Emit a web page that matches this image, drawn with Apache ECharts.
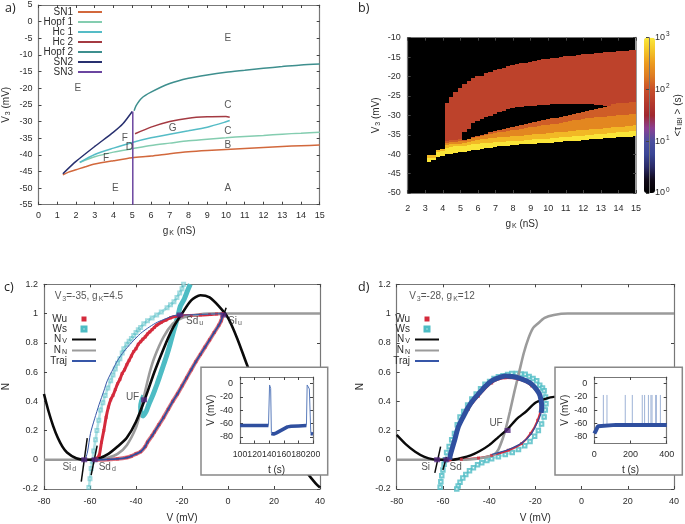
<!DOCTYPE html>
<html><head><meta charset="utf-8">
<style>html,body{margin:0;padding:0;background:#fff}#c{width:685px;height:524px}</style>
<script src="https://cdn.jsdelivr.net/npm/echarts@6/dist/echarts.min.js"></script>
</head><body><div id="c"></div>
<script>
// ---------- panel a ----------
const aSN1=[[1.3,-46],[1.6,-45.2],[2,-44.5],[2.5,-43.6],[3,-42.8],[4,-41.8],[5,-40.9],[6,-40.4],[7,-39.7],[8,-39.1],[9,-38.7],[10,-38.4],[11,-38.1],[12,-37.8],[13,-37.5],[14,-37.3],[15,-37.1]];
const aHopf1=[[2.2,-42.3],[3,-40.6],[4,-39.2],[5,-38.2],[6,-37.2],[7,-36.5],[8,-35.8],[9,-35.3],[10,-34.9],[11,-34.5],[12,-34.2],[13,-33.8],[14,-33.5],[15,-33.2]];
const aHc1=[[2.2,-42.3],[3,-39.9],[4,-38],[5,-36.3],[6,-34.9],[7,-33.8],[8,-32.8],[9,-31.7],[10,-30.1],[10.2,-29.7]];
const aHc2=[[5.15,-33.7],[6,-31.7],[7,-30],[8,-29],[9,-28.6],[10,-28.5],[10.2,-28.7]];
const aHopf2=[[5.1,-26.8],[5.2,-25.3],[5.5,-23],[6,-21.2],[7,-18.6],[8,-17],[9,-16],[10,-15.2],[11,-14.6],[12,-14],[13,-13.5],[14,-13],[15,-12.7]];
const aSN2=[[1.3,-45.7],[2,-42],[3,-37.5],[4,-33.2],[4.5,-30.7],[5,-27]];
const aSN3=[[5.03,-55],[5.03,-27]];
const aLetters=[['E',10.1,-5],['C',10.1,-25],['G',7.15,-32],['C',10.1,-33],['F',4.6,-35],['D',4.85,-37.6],['B',10.1,-37],['F',3.6,-41],['E',2.1,-20],['E',4.1,-50],['A',10.1,-50]];

// ---------- panel b (columns, mV) ----------
const heatG=[3.1,3.35,3.6,3.85,4.1,4.35,4.6,4.85,5.1,5.35,5.6,5.85,6.1,6.35,6.6,6.85,7.1,7.35,7.6,7.85,8.1,8.35,8.6,8.85,9.1,9.35,9.6,9.85,10.1,10.35,10.6,10.85,11.1,11.35,11.6,11.85,12.1,12.35,12.6,12.85,13.1,13.35,13.6,13.85,14.1,14.35,14.6,14.85];
const heatRedTop=[null,null,null,null,-26.7,-25.2,-24,-23,-22,-21.2,-20.5,-19.9,-19.8,-19.2,-18.8,-18.4,-18,-17.7,-17.4,-17.1,-16.8,-16.6,-16.4,-16.2,-16,-15.8,-15.6,-15.4,-15.3,-15.1,-15,-14.8,-14.7,-14.6,-14.4,-14.3,-14.2,-14.1,-14,-13.9,-13.8,-13.7,-13.6,-13.5,-13.4,-13.3,-13.2,-13.1];
const heatHoleTop=[null,null,null,null,-36.5,-36.4,-36.3,-36.2,-34.2,-33.6,-32,-31.5,-31,-30.5,-30.1,-29.7,-29.2,-28.8,-28.4,-28.1,-27.9,-27.8,-27.7,-27.6,-27.5,-27.4,-27.4,-27.3,-27.2,-27.2,-27.1,-27.1,-27,-27,-27,-27.1,-27.2,-27.2,-27.3,-27.4,-27.5,-27.6,-27,-26.9,-26.8,-26.7,-26.6,-26.5];
const heatHoleBottom=[null,null,null,null,-36.5,-36.4,-36.3,-36.2,-36.3,-36,-35.6,-35.3,-35,-34.7,-34.4,-34.1,-33.8,-33.5,-33.2,-32.9,-32.7,-32.4,-32.1,-31.9,-31.6,-31.4,-31.2,-31,-30.8,-30.6,-30.4,-30.1,-29.9,-29.7,-29.4,-29.1,-28.9,-28.6,-28.3,-28,-27.8,-27.7,-27,-26.9,-26.8,-26.7,-26.6,-26.5];
const heatOrangeTop=[null,null,null,null,-37,-36.9,-36.8,-36.6,-36.6,-36.2,-35.9,-35.6,-35.3,-35,-34.8,-34.6,-34.4,-34.2,-34,-33.8,-33.7,-33.5,-33.3,-33.1,-32.9,-32.8,-32.6,-32.4,-32.2,-32.1,-31.9,-31.7,-31.5,-31.3,-31.2,-31,-30.8,-30.7,-30.5,-30.4,-30.3,-30.2,-30.1,-30,-29.9,-29.8,-29.7,-29.6];
const heatAmberTop=[-40.2,-40.2,-38.8,-38.6,-37.6,-37.5,-37.4,-37.3,-37.2,-36.8,-36.6,-36.4,-36.2,-36,-35.9,-35.8,-35.7,-35.6,-35.5,-35.4,-35.3,-35.2,-35.1,-35,-34.9,-34.8,-34.7,-34.6,-34.5,-34.4,-34.3,-34.2,-34.1,-34,-33.9,-33.8,-33.7,-33.6,-33.5,-33.4,-33.3,-33.2,-33.1,-33,-32.9,-32.8,-32.7,-32.6];
const heatYellowTop=[-41,-41,-39.4,-39.2,-38.3,-38.1,-37.9,-37.8,-37.8,-37.7,-37.5,-37.3,-37.2,-37.1,-37,-36.9,-36.9,-36.8,-36.7,-36.6,-36.6,-36.5,-36.4,-36.3,-36.2,-36.1,-36.1,-36,-35.9,-35.8,-35.7,-35.6,-35.5,-35.4,-35.3,-35.2,-35.1,-35,-34.9,-34.8,-34.7,-34.6,-34.5,-34.4,-34.3,-34.2,-34.1,-34];
const heatBottom=[-42,-41.6,-40.8,-40.4,-40,-39.9,-39.7,-39.5,-39.4,-39.2,-39,-38.9,-38.7,-38.5,-38.3,-38.2,-38,-37.9,-37.8,-37.7,-37.6,-37.5,-37.4,-37.3,-37.3,-37.2,-37.1,-37,-37,-36.9,-36.8,-36.7,-36.6,-36.5,-36.5,-36.4,-36.3,-36.2,-36.1,-36,-35.9,-35.9,-35.8,-35.7,-35.7,-35.6,-35.5,-35.4];
const heatLevels=[1.85,2.08,2.35,2.68,2.97]; // log10 <tau> of red, red-orange, orange, amber, yellow
const colorStops=['#000000','#100818','#2a2a66','#3a4596','#4b4f9f','#8b3f93','#a0282f','#b53a2c','#c84f2a','#dd7a22','#ec9a1e','#f4c428','#fbe93a'];

// ---------- panel c ----------
const cNV=[[-80,.45],[-78,.33],[-76,.23],[-74,.15],[-72,.09],[-70,.05],[-66,.01],[-62,0],[-60,0],[-56,.01],[-52,.04],[-48,.09],[-44,.15],[-40,.26],[-36,.42],[-32,.6],[-28,.76],[-24,.9],[-20,1],[-16,1.09],[-12,1.125],[-8,1.11],[-4,1.05],[0,.97],[4,.83],[8,.66],[10,.58],[20,.24],[30,.02],[34,-.08],[38,-.16],[40,-.19]];
const cNN=[[-80,0],[-60,0],[-56,.005],[-52,.015],[-48,.04],[-44,.1],[-40,.22],[-38,.33],[-36,.47],[-34,.6],[-32,.7],[-28,.84],[-24,.93],[-20,.97],[-14,.99],[-8,1],[0,1],[40,1]];
const cWuUpper=[[-57.5,0],[-57,.01],[-56,.03],[-55,.12],[-54,.2],[-53,.29],[-52,.36],[-51,.41],[-50,.44],[-49,.48],[-48,.52],[-47,.55],[-46,.59],[-45,.615],[-44,.65],[-43,.68],[-42,.71],[-41,.74],[-40,.76],[-39,.79],[-38,.807],[-37,.825],[-36,.84],[-35,.86],[-34,.875],[-33,.89],[-32,.905],[-31,.92],[-29,.94],[-27,.955],[-25,.97],[-23,.98],[-20,.985],[-16,.987],[-12,.99],[-8,.993],[-5,.997],[-2,1]];
const cWuLower=[[-2,1],[-3,.95],[-4,.92],[-6,.87],[-8,.82],[-10,.77],[-12,.72],[-14,.67],[-16,.615],[-18,.56],[-20,.505],[-22,.45],[-24,.4],[-26,.345],[-28,.29],[-30,.24],[-32,.19],[-33,.165],[-35,.12],[-36,.09],[-38,.055],[-40,.04],[-42,.025],[-44,.015],[-48,.006],[-52,.002],[-57,0]];
const cTrajUpper=[[-62,0],[-61,.06],[-59.8,.18],[-58,.28],[-56,.38],[-54,.47],[-52.5,.54],[-50,.62],[-48,.68],[-45.3,.74],[-42,.8],[-38,.864],[-34,.91],[-30.8,.94],[-27,.965],[-23.7,.985],[-18,.99],[-10,.995],[-2,1]];
const cWsUpper=[[-60.5,-.19],[-60,-.13],[-59.5,-.06],[-59,-.01],[-58.4,.06],[-57.6,.136],[-57,.2],[-56.2,.27],[-55.4,.34],[-54.4,.39],[-53.4,.44],[-52.2,.49],[-51,.54],[-50,.58],[-49,.62],[-48,.66],[-47,.69],[-46,.73],[-45.3,.76],[-44,.79],[-43,.81],[-42,.83],[-41,.85],[-40,.87],[-39,.89],[-38,.905],[-36.6,.93],[-35,.95],[-33,.97],[-31,.99],[-29,1.01],[-26.5,1.04],[-25,1.06],[-23.5,1.08],[-22.2,1.11],[-21,1.14],[-20,1.17],[-19.3,1.2]];
const cWsBand=[[-16.4,1.2],[-17.5,1.16],[-19,1.1],[-20.7,1.05],[-21.8,.98],[-22.9,.92],[-24,.86],[-25.2,.79],[-26.5,.72],[-28,.65],[-29.5,.58],[-30.8,.52],[-32,.47],[-33,.43],[-34.4,.38],[-35.6,.33],[-36.9,.3],[-37.8,.32],[-38,.36],[-37.6,.4],[-36.6,.44]];
const cStableSi=[[-63.8,-.15],[-61.2,.148]];
const cStableSd=[[-59.5,-.105],[-56.9,.096]];
const cStableSu=[[-2,.985],[-.8,1.04]];
const cFixedPoints=[[-62.5,0],[-58,0],[-36.5,.41],[-21,.99],[-2,.99]];
const cLabels=[['{t|Si}{s|d}',-69,-.05],['{t|Sd}{s|d}',-52.5,-.05],['{t|UF}',-41.5,.43],['{t|Sd}{s|u}',-14.5,.95],['{t|Si}{s|u}',3,.95],['{t|V}{s|3}{t|=-35, g}{s|K}{t|=4.5}',-60.5,1.115]];
const cInsetThick=[[100,-63],[139,-63],null,[143,-75],[146,-76],[150,-74],[155,-71],[160,-68],[165,-65],[170,-64],[180,-63.5],[191,-63],null,[197,-75],[200,-76]];
const cInsetThin=[[139,-63],[140.5,-2],[142,-7],[143,-75],null,[191,-63],[192,-2],[195,-8],[197,-75]];

// ---------- panel d ----------
const dNV=[[-80,.17],[-76,.105],[-72,.055],[-68,.02],[-64,.003],[-60,0],[-56,0],[-52,.012],[-48,.03],[-44,.06],[-40,.1],[-36,.155],[-32,.21],[-28,.28],[-24,.33],[-20,.39],[-16,.415],[-12,.43],[-5,.43]];
const dNN=[[-80,0],[-50,0],[-46,.005],[-42,.015],[-38,.035],[-36,.07],[-34,.15],[-33,.2],[-31,.33],[-29,.47],[-27,.6],[-25,.73],[-23,.83],[-21,.9],[-19,.93],[-16,.97],[-12,.99],[-6,1],[0,1],[40,1]];
const dWu=[[-57,0],[-56.7,.01],[-53.5,.21],[-49,.345],[-44.6,.435],[-38.9,.525],[-33.1,.56],[-27.3,.55],[-21.6,.505],[-18,.43],[-17.6,.36],[-19,.27],[-22,.18],[-26,.11],[-31.7,.065],[-38.9,.03],[-44.6,.012],[-52,.003],[-57,0]];
const dTrajUpper=[[-57,0],[-56.9,.025],[-55,.13],[-53.3,.226],[-51,.3],[-49,.36],[-46.8,.41],[-44.6,.45],[-41.8,.5],[-38.9,.54],[-36,.56],[-33.1,.573],[-30,.57],[-27.3,.56],[-24,.54],[-21.6,.517],[-19.5,.48],[-18,.44],[-17.2,.36],[-17.5,.32]];
const dTrajLower=[[-17.5,.32],[-18.7,.27],[-21.6,.18],[-25.9,.114],[-31.7,.07],[-38.9,.036]];
const dWs=[[-61.2,-.188],[-60.9,-.15],[-60.5,-.11],[-60,-.07],[-59.5,-.03],[-59,0],[-58.4,.05],[-57.3,.09],[-56.2,.136],[-55,.18],[-53.8,.24],[-52.6,.293],[-51,.33],[-49.3,.375],[-47.5,.416],[-45.6,.45],[-43.7,.485],[-41.8,.517],[-39.8,.535],[-37.9,.555],[-36,.568],[-34,.575],[-32,.583],[-30.2,.59],[-28.2,.59],[-26.2,.587],[-24.4,.584],[-22.7,.57],[-21,.555],[-19.4,.54],[-18.1,.51],[-16.9,.49],[-16.2,.472],[-15.6,.43],[-15.4,.383],[-15.7,.34],[-16.2,.293],[-17.3,.245],[-18.7,.2],[-20.3,.16],[-22.3,.125],[-24.6,.095],[-27.3,.07],[-30,.05],[-33,.036],[-36,.02],[-38.9,.007],[-41,-.005],[-43.2,-.02],[-45,-.035],[-46.8,-.054],[-48.5,-.075],[-50.1,-.1],[-51.4,-.125],[-52.6,-.154],[-53.4,-.18],[-54,-.2]];
const dStableSi=[[-63.5,-.09],[-61,.09]];
const dStableSd=[[-60,-.07],[-58.5,.02]];
const dFixedPoints=[[-62.5,0],[-58.5,0],[-32,.2]];
const dLabels=[['{t|Si}',-67.5,-.05],['{t|Sd}',-54.5,-.05],['{t|UF}',-37,.25],['{t|V}{s|3}{t|=-28, g}{s|K}{t|=12}',-60.4,1.115]];
const dInsetThick=[[0,-75],[10,-70],[20,-64],[30,-62],[120,-62],[280,-62],[290,-64],[300,-62],[400,-62]];
const dSpikeTimes=[50,70,171,210,265,278,299,313,319,339,343,365];

// ---------- styles ----------
const FONT='"Liberation Sans",Arial,sans-serif';
const C={ink:'#2c2c2c',axis:'#777',black:'#0a0a0a',grey:'#9b9b9b',red:'#d42a3c',teal:'#4dbcc4',blue:'#2f4f9f',purple:'#54287f'};
const RICH={t:{fontFamily:FONT,fontSize:10,color:C.ink},s:{fontFamily:FONT,fontSize:7,color:C.ink,padding:[4,0,0,1]}};
const grids=[],xAxes=[],yAxes=[],series=[];

function panel(rect,o){
  const z=o.z||0, g=grids.length;
  grids.push({left:rect[0],top:rect[1],width:rect[2],height:rect[3],show:false,z,backgroundColor:'transparent'});
  const common=(extra)=>Object.assign({gridIndex:g,z,axisLine:{onZero:false,lineStyle:{color:C.axis,width:1.2}},axisTick:{inside:true,length:3,lineStyle:{color:'#444',width:1}},splitLine:{show:false},axisLabel:{fontFamily:FONT,fontSize:o.font||9,color:C.ink,margin:o.margin||6,showMinLabel:true,showMaxLabel:true,hideOverlap:false},nameTextStyle:{rich:RICH,fontFamily:FONT,fontSize:10,color:C.ink}},extra);
  const tickY=o.yTicks;
  const xi=xAxes.length;
  const x0=common({type:'value',min:o.x[0],max:o.x[1],interval:o.x[2],position:'bottom',name:o.xName,nameLocation:'middle',nameGap:o.xGap});
  x0.axisLabel.margin=o.xMargin||o.margin||6;
  if(o.xFont)x0.axisLabel.fontSize=o.xFont;
  xAxes.push(x0);
  const yi=yAxes.length;
  const y0=common({type:'value',min:o.y[0],max:o.y[1],interval:o.y[2],position:'left',name:o.yName,nameLocation:'middle',nameGap:o.yGap,nameRotate:90});
  if(tickY){y0.axisLabel.customValues=tickY;y0.axisTick.customValues=tickY;}
  yAxes.push(y0);
  const x2=common({type:'value',min:o.x[0],max:o.x[1],interval:o.x[2],position:'top'});x2.axisLabel={show:false};
  xAxes.push(x2);
  const y2=common({type:'value',min:o.y[0],max:o.y[1],interval:o.y[2],position:'right'});y2.axisLabel={show:false};
  if(tickY){y2.axisTick.customValues=tickY;}
  if(o.rightLine)y2.axisLine.lineStyle=o.rightLine;
  yAxes.push(y2);
  return {xAxisIndex:xi,yAxisIndex:yi};
}
function line(ax,name,data,color,width,z,opacity){
  series.push(Object.assign({type:'line',name,data,symbol:'none',smooth:0.25,connectNulls:false,silent:true,animation:false,z:z||2,lineStyle:{color,width,opacity:opacity==null?1:opacity,cap:'butt'},itemStyle:{color}},ax));
}
function straight(ax,name,data,color,width,z){
  series.push(Object.assign({type:'line',name,data,symbol:'none',smooth:false,connectNulls:false,silent:true,animation:false,z:z||2,lineStyle:{color,width,cap:'butt'},itemStyle:{color}},ax));
}
function marks(ax,name,data,symbol,size,color,z,hollow,op){
  series.push(Object.assign({type:'scatter',name,data,symbol,symbolSize:size,silent:true,animation:false,z:z||2,
    itemStyle:hollow?{color,borderColor:color,borderWidth:.8,opacity:op||.75}:{color}},ax));
}
function labels(ax,list,opt){
  series.push(Object.assign({type:'scatter',data:list.map(l=>({value:[l[1],l[2]],text:l[0]})),symbolSize:0,silent:true,animation:false,z:4,
    label:Object.assign({show:true,position:'inside',formatter:p=>p.data.text,rich:RICH,fontFamily:FONT,fontSize:10,color:C.ink},opt||{})},ax));
}
const nm=s=>`{t|${s[0]}}{s|${s[1]}}`;

// panel a
const A=panel([38,5,281.7,199.7],{x:[0,15,1],y:[-55,5,5],xName:nm(['g','K'])+'{t| (nS)}',xGap:21,yName:nm(['V','3'])+'{t| (mV)}',yGap:27});
line(A,'SN1',aSN1,'#d2683c',1.5);
line(A,'Hopf 1',aHopf1,'#84cdb0',1.5);
line(A,'Hc 1',aHc1,'#55bcc6',1.5);
line(A,'Hc 2',aHc2,'#a43a42',1.5);
line(A,'Hopf 2',aHopf2,'#3e8f8e',1.5);
line(A,'SN2',aSN2,'#28306f',1.5);
straight(A,'SN3',aSN3,'#6b46a0',1.5);
labels(A,aLetters.map(l=>['{t|'+l[0]+'}',l[1],l[2]]));

// panel b
const B=panel([407.7,37.7,228.3,155.3],{x:[2,15,1],y:[-50,-10,5],xName:nm(['g','K'])+'{t| (nS)}',xGap:26,yName:nm(['V','3'])+'{t| (mV)}',yGap:26,margin:7,xMargin:11,rightLine:{color:'#999',width:2}});
grids[grids.length-1].show=true;grids[grids.length-1].backgroundColor='#000';grids[grids.length-1].borderWidth=0;
const heatCells=[];
heatG.forEach((g,i)=>{
  const g1=Math.min(g+0.25,15);
  const bands=[[heatRedTop[i],heatHoleTop[i],heatLevels[0]],[heatHoleBottom[i],heatOrangeTop[i],heatLevels[1]],[heatOrangeTop[i],heatAmberTop[i],heatLevels[2]],[heatAmberTop[i],heatYellowTop[i],heatLevels[3]],[heatYellowTop[i],heatBottom[i],heatLevels[4]]];
  bands.forEach(b=>{if(b[0]!=null&&b[1]!=null&&b[0]>b[1])heatCells.push([g,g1,b[0],b[1],b[2]]);});
});
const heatIndex=series.length;
series.push(Object.assign({type:'custom',data:heatCells,encode:{x:[0,1],y:[2,3]},silent:true,animation:false,clip:true,z:2,
  renderItem:(p,api)=>{
    const a=api.coord([api.value(0),api.value(2)]),b=api.coord([api.value(1),api.value(3)]);
    const x=Math.round(a[0]),y=Math.round(a[1]);
    return {type:'rect',shape:{x,y,width:Math.round(b[0])-x,height:Math.round(b[1])-y},style:{fill:api.visual('color')}};
  }},B));

// colour bar scale (the bar itself is the visualMap below)
const barGrid=grids.length;
grids.push({left:644,top:37.7,width:11,height:155.3,show:false,z:6});
xAxes.push({gridIndex:barGrid,type:'value',min:0,max:1,show:false});
yAxes.push({gridIndex:barGrid,type:'log',logBase:10,min:1,max:1000,position:'right',z:6,
  axisLine:{show:true,onZero:false,lineStyle:{color:C.axis,width:1}},axisTick:{inside:true,length:3,lineStyle:{color:'#444'}},minorTick:{show:false},splitLine:{show:false},
  axisLabel:{margin:6,formatter:v=>`{b|10}{p|${Math.round(Math.log10(v))}}`,rich:{b:{fontFamily:FONT,fontSize:9,color:C.ink},p:{fontFamily:FONT,fontSize:6.5,color:C.ink,padding:[0,0,6,1]}}},
  name:'{t|<τ}{s|IBI}{t| > (s)}',nameLocation:'middle',nameGap:23,nameRotate:90,nameTextStyle:{rich:RICH}});

// panel c
const CP=panel([43.3,284.3,276.7,208.7],{x:[-80,40,20],y:[-0.2,1.2,0.2],xName:'V (mV)',xGap:24,yName:'N',yGap:33,xMargin:8});
line(CP,'',cWsUpper,'#8fd6da',2.6,2,.7);
line(CP,'',cWsBand,C.teal,5,2);
marks(CP,'Ws',cWsUpper,'emptyRect',3,C.teal,2,true,.5);
marks(CP,'Wu',cWuUpper.concat(cWuLower),'rect',3,C.red,3);
line(CP,'',cWuUpper,C.red,3,3);
line(CP,'',cWuLower,'#e0727c',4,3);
line(CP,'NN',cNN,C.grey,2.6,3);
line(CP,'NV',cNV,C.black,2.6,3);
line(CP,'Traj',cTrajUpper,'#3656a8',1,4);
line(CP,'',cWuLower,C.blue,1.8,4);
[cStableSi,cStableSd,cStableSu].forEach(s=>straight(CP,'',s,C.black,1.5,4));
marks(CP,'',cFixedPoints,'rect',[6,5],C.purple,5);
labels(CP,cLabels);

const insetC=panel([240,377,73,66.5],{z:10,font:9,xFont:8.7,x:[100,200,20],y:[-90,10,20],yTicks:[-80,-60,-40,-20,0],xName:'t (s)',xGap:22,yName:'V (mV)',yGap:22,margin:7});
straight(insetC,'',cInsetThick,C.blue,3.5,12);
straight(insetC,'',cInsetThin,'#5a7cbc',1,12);

// panel d
const DP=panel([396.7,284.3,277.3,208.7],{x:[-80,40,20],y:[-0.2,1.2,0.2],xName:'V (mV)',xGap:24,yName:'N',yGap:31,xMargin:8});
line(DP,'',dWs,'#8fd6da',2,2,.6);
marks(DP,'Ws',dWs,'emptyRect',3.5,C.teal,2,true,.8);
marks(DP,'Wu',dWu,'rect',3,C.red,3);
line(DP,'',dWu,C.red,2,3);
line(DP,'NN',dNN,C.grey,2.6,3);
line(DP,'NV',dNV,C.black,2.4,3);
line(DP,'',dTrajUpper,C.blue,5,4);
line(DP,'Traj',dTrajLower,C.blue,1.2,4);
[dStableSi,dStableSd].forEach(s=>straight(DP,'',s,C.black,1.5,4));
marks(DP,'',dFixedPoints,'rect',[6,5],C.purple,5);
labels(DP,dLabels);

const insetD=panel([594.3,377,72.4,66.5],{z:10,font:9,x:[0,400,200],y:[-90,10,20],yTicks:[-80,-60,-40,-20,0],xName:'t (s)',xGap:22,yName:'V (mV)',yGap:22,margin:7});
const dSpikes=[];dSpikeTimes.forEach(t=>{dSpikes.push([t,-62],[t,-17],null);});
straight(insetD,'',dSpikes,'#9db2d6',1,12);
straight(insetD,'',dInsetThick,C.blue,4,13);

const legendFmt=n=>{
  if(n==='NV')return '{n|N}{s|V}';
  if(n==='NN')return '{n|N}{s|N}';
  return `{w|${n}}`;
};
function legendRich(w){return {w:{fontFamily:FONT,fontSize:10,color:C.ink,width:w,align:'right',lineHeight:10},n:{fontFamily:FONT,fontSize:10,color:C.ink,align:'right',lineHeight:10},s:{fontFamily:FONT,fontSize:7,color:C.ink,align:'right',padding:[4,0,0,1],lineHeight:10}};}
// line series show only their line in the legend; the two marker series get small square icons
const ICONS={Wu:'path://M0 0H10V10H0Z',Ws:'path://M0 0H10V10H0ZM2 2V8H8V2Z'};
const legendBase=(left,top,names,w)=>({orient:'vertical',left,top,align:'right',padding:0,itemGap:0,itemWidth:24,itemHeight:5,selectedMode:false,itemStyle:{opacity:0},
  data:names.map(n=>ICONS[n]?{name:n,icon:ICONS[n],itemStyle:{opacity:1}}:{name:n}),
  formatter:legendFmt,textStyle:{width:w,align:'right',rich:legendRich(w)},z:6});
const legendNames=['Wu','Ws','NV','NN','Traj'];

const option={
  animation:false,backgroundColor:'#fff',
  title:[['a)',5,2],['b)',358,2],['c)',4,281],['d)',358,281]].map(t=>({text:t[0],left:t[1],top:t[2],padding:0,textStyle:{fontFamily:'"Open Sans",sans-serif',fontSize:12.5,fontWeight:'normal',color:'#222'}})),
  grid:grids,xAxis:xAxes,yAxis:yAxes,series,
  legend:[legendBase(21,7,['SN1','Hopf 1','Hc 1','Hc 2','Hopf 2','SN2','SN3'],52),legendBase(37,314,legendNames,30),legendBase(380,314,legendNames,30)],
  visualMap:{type:'continuous',seriesIndex:heatIndex,dimension:4,min:0,max:3,calculable:false,left:644,top:37.7,itemWidth:11,itemHeight:155.3,padding:0,text:null,showLabel:false,inRange:{color:colorStops},z:5},
  graphic:[
    {type:'rect',shape:{x:201,y:367.3,width:126.7,height:107.7},style:{fill:'#fff',stroke:'#888',lineWidth:1.5},z:8,silent:true},
    {type:'rect',shape:{x:555,y:367.3,width:127.3,height:107.7},style:{fill:'#fff',stroke:'#888',lineWidth:1.5},z:8,silent:true}
  ]
};
const chart=echarts.init(document.getElementById('c'),null,{renderer:'canvas',width:685,height:524});
chart.setOption(option);
</script></body></html>
